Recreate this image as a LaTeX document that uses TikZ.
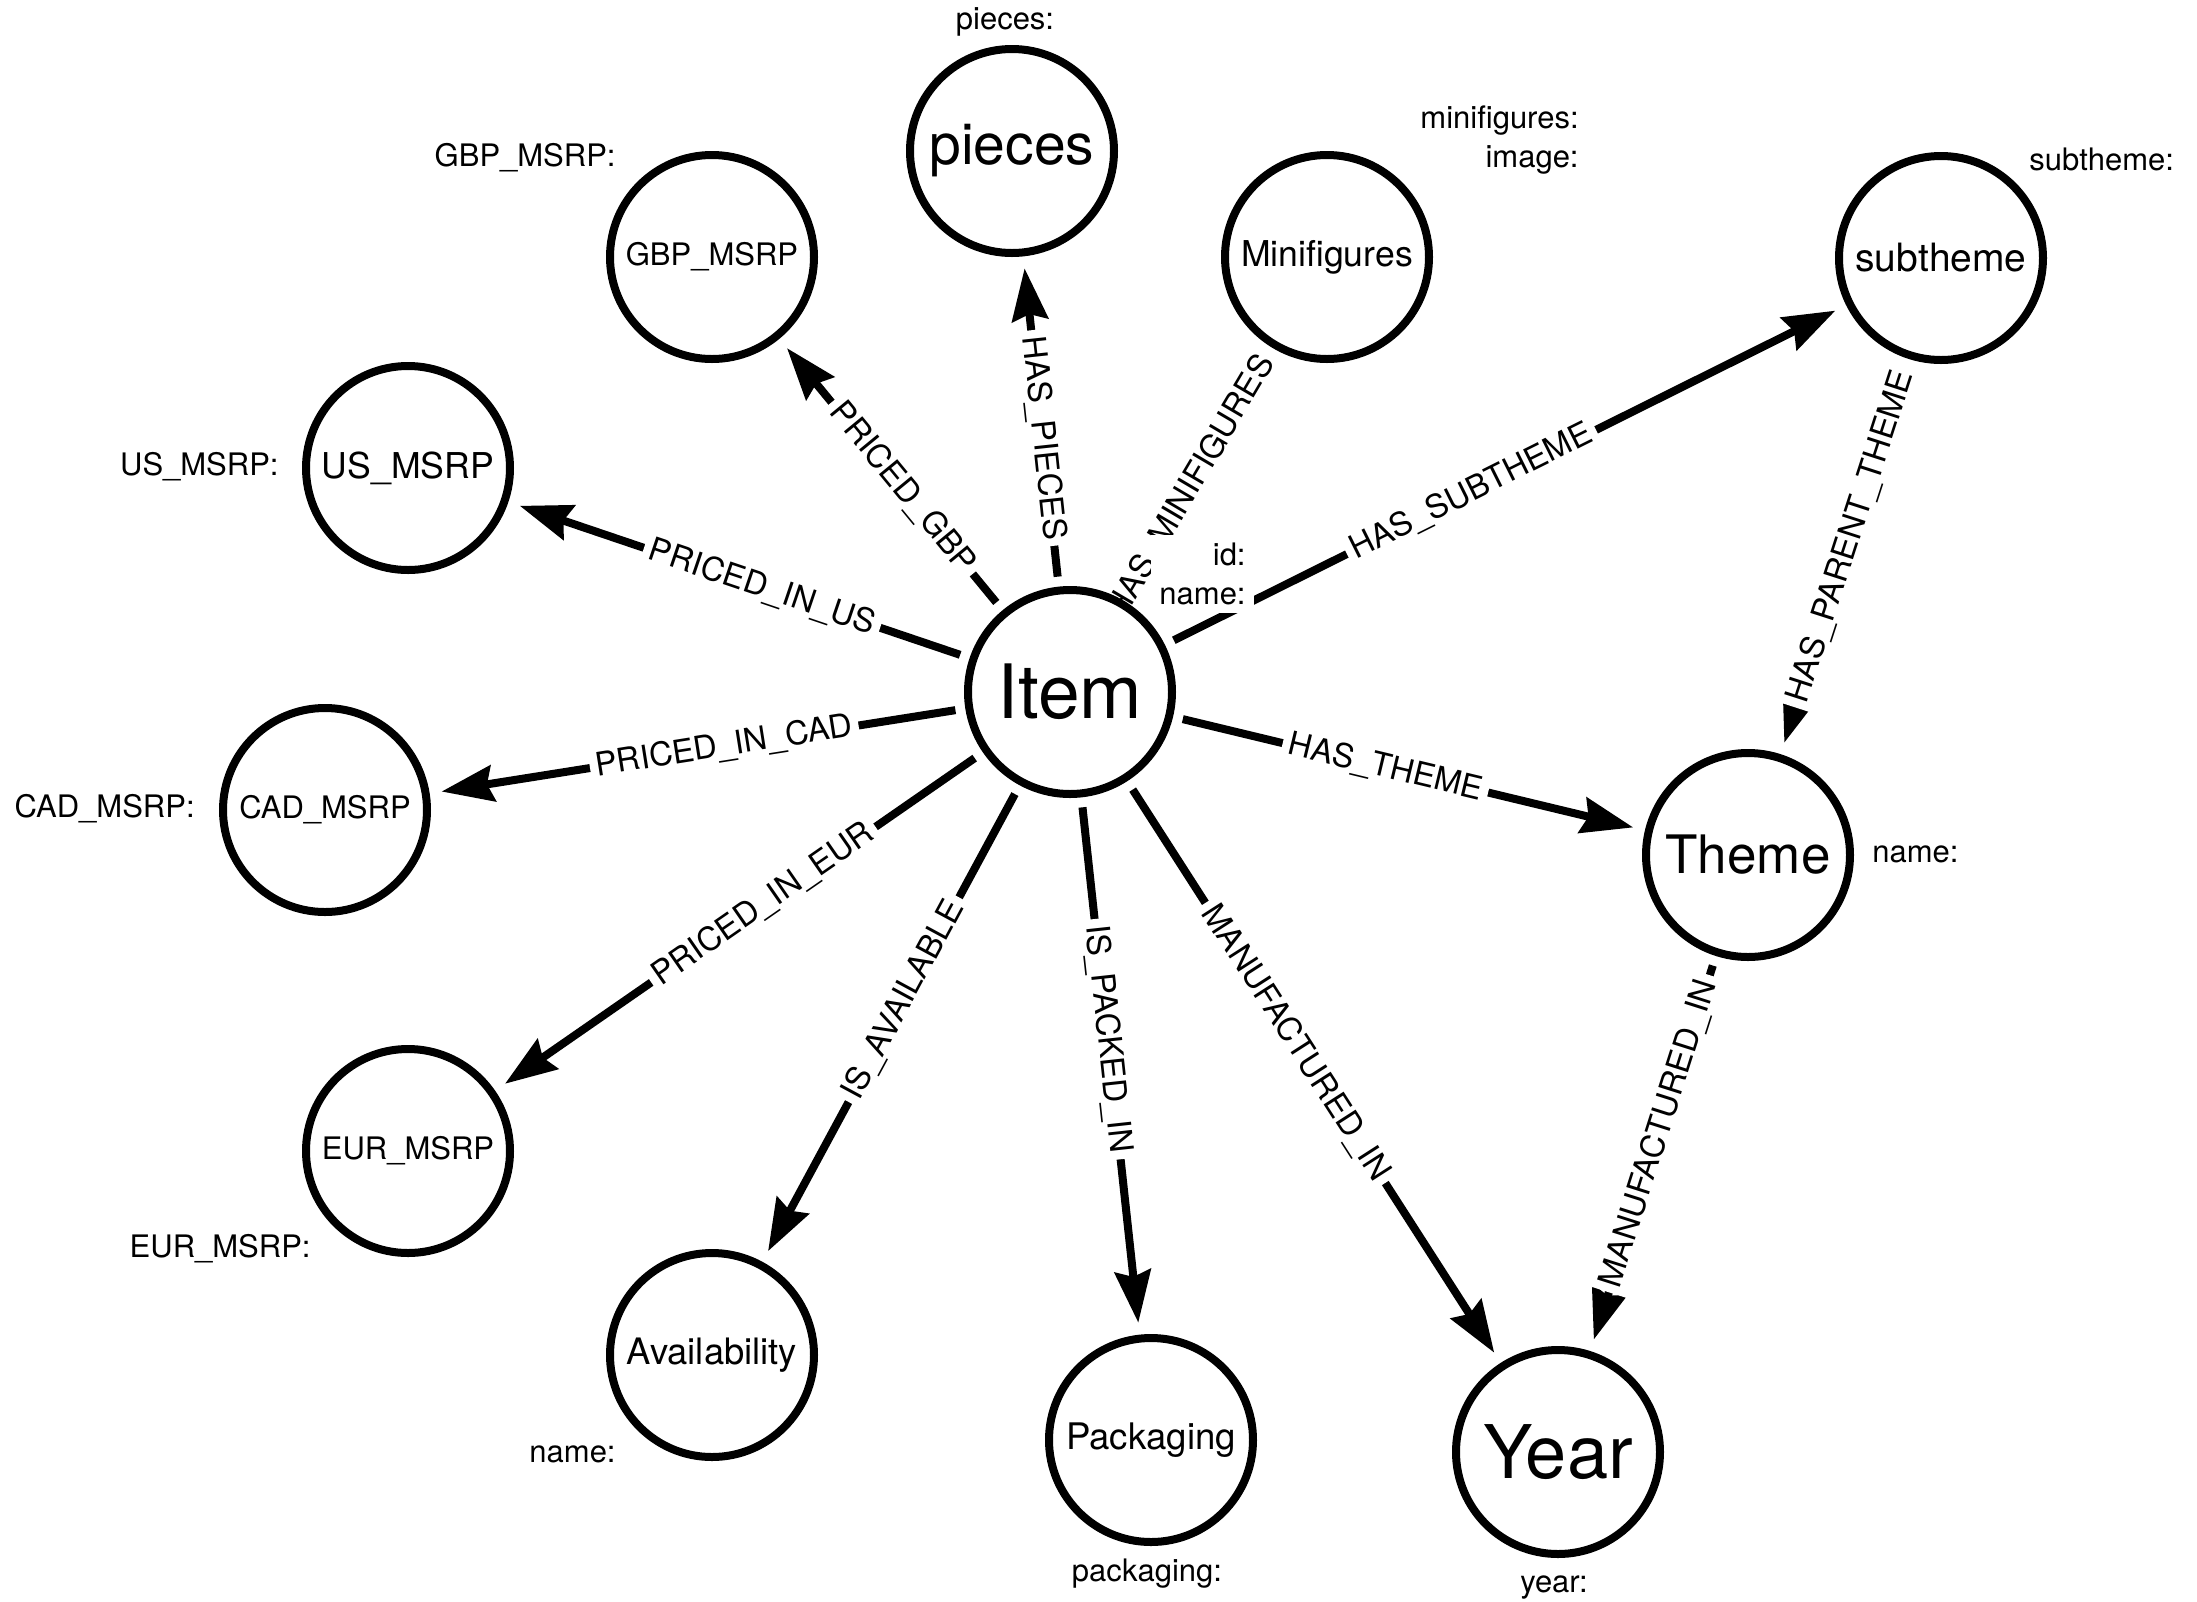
\documentclass[tikz,border=0pt]{standalone}
\usepackage{fontspec}
\setmainfont{TeX Gyre Heros}
\usetikzlibrary{arrows.meta,backgrounds}
\newcommand{\nodefont}[1]{\fontsize{#1}{1.25\dimexpr#1\relax}\selectfont}

\begin{document}
\begin{tikzpicture}[x=0.5pt,y=-0.5pt]
  \tikzset{entity/.style={circle,draw,line width=4pt,fill=white,minimum size=102pt,inner sep=0pt},
    prop/.style={fill=white,inner sep=4pt,align=right,font=\nodefont{15.5pt}},
    rel/.style={-{Stealth[length=26pt,width=18pt,inset=3pt]},line width=4pt,shorten <=5pt,shorten >=6pt},
    rellabel/.style={sloped,fill=white,inner sep=3pt,pos=0.45,font=\nodefont{16.3pt}}}
  \useasboundingbox (0,0) rectangle (2197,1602);

  \node[entity,font=\nodefont{37.5pt}] (item) at (1070,692) {Item};
  \node[entity,font=\nodefont{28.5pt}] (pieces) at (1012,151) {pieces};
  \node[entity,font=\nodefont{15.5pt}] (gbp) at (712,257) {GBP\_MSRP};
  \node[entity,font=\nodefont{17.8pt}] (minifig) at (1327,257) {Minifigures};
  \node[entity,font=\nodefont{19.5pt}] (subtheme) at (1941,258) {subtheme};
  \node[entity,font=\nodefont{17.8pt}] (us) at (408,468) {US\_MSRP};
  \node[entity,font=\nodefont{15.5pt}] (cad) at (325,810) {CAD\_MSRP};
  \node[entity,font=\nodefont{15.5pt}] (eur) at (408,1151) {EUR\_MSRP};
  \node[entity,font=\nodefont{18.2pt}] (avail) at (712,1355) {Availability};
  \node[entity,font=\nodefont{18.3pt}] (pack) at (1151,1440) {Packaging};
  \node[entity,font=\nodefont{37pt}] (year) at (1558,1452) {Year};
  \node[entity,font=\nodefont{26.5pt}] (theme) at (1748,855) {Theme};

  \begin{pgfonlayer}{background}
    \draw[rel] (item) -- node[rellabel] {HAS\_PIECES} (pieces);
    \draw[rel] (item) -- node[rellabel] {PRICED\_GBP} (gbp);
    \draw[rel] (item) -- node[rellabel] {PRICED\_IN\_US} (us);
    \draw[rel] (item) -- node[rellabel] {PRICED\_IN\_CAD} (cad);
    \draw[rel] (item) -- node[rellabel] {PRICED\_IN\_EUR} (eur);
    \draw[rel] (item) -- node[rellabel] {IS\_AVAILABLE} (avail);
    \draw[rel] (item) -- node[rellabel] {IS\_PACKED\_IN} (pack);
    \draw[rel] (item) -- node[rellabel] {MANUFACTURED\_IN} (year);
    \draw[rel] (item) -- node[rellabel] {HAS\_THEME} (theme);
    \draw[rel] (item) -- node[rellabel] {HAS\_SUBTHEME} (subtheme);
    \draw[rel] (item) -- node[rellabel] {HAS\_MINIFIGURES} (minifig);
    \draw[rel] (subtheme) -- node[rellabel] {HAS\_PARENT\_THEME} (theme);
    \draw[rel] (theme) -- node[rellabel] {MANUFACTURED\_IN} (year);
  \end{pgfonlayer}

  \node[prop] (piecesprop) at (1005,22) {pieces:};
  \node[prop,anchor=east] (gbpprop) at (624,158) {GBP\_MSRP:};
  \node[prop,anchor=east] (usprop) at (287,467) {US\_MSRP:};
  \node[prop,anchor=east] (cadprop) at (203,809) {CAD\_MSRP:};
  \node[prop,anchor=east] (eurprop) at (319,1249) {EUR\_MSRP:};
  \node[prop,anchor=east] (availprop) at (624,1454) {name:};
  \node[prop] (packprop) at (1147,1574) {packaging:};
  \node[prop] (yearprop) at (1554,1588) {year:};
  \node[prop,anchor=west] (themeprop) at (1864,854) {name:};
  \node[prop,anchor=west] (subthemeprop) at (2021,159) {subtheme:};
  \node[prop,anchor=east] (minifigprop) at (1587,140) {minifigures:\\image:};
  \node[prop,anchor=east] (itemprop) at (1254,574) {id:\\name:};
\end{tikzpicture}
\end{document}
